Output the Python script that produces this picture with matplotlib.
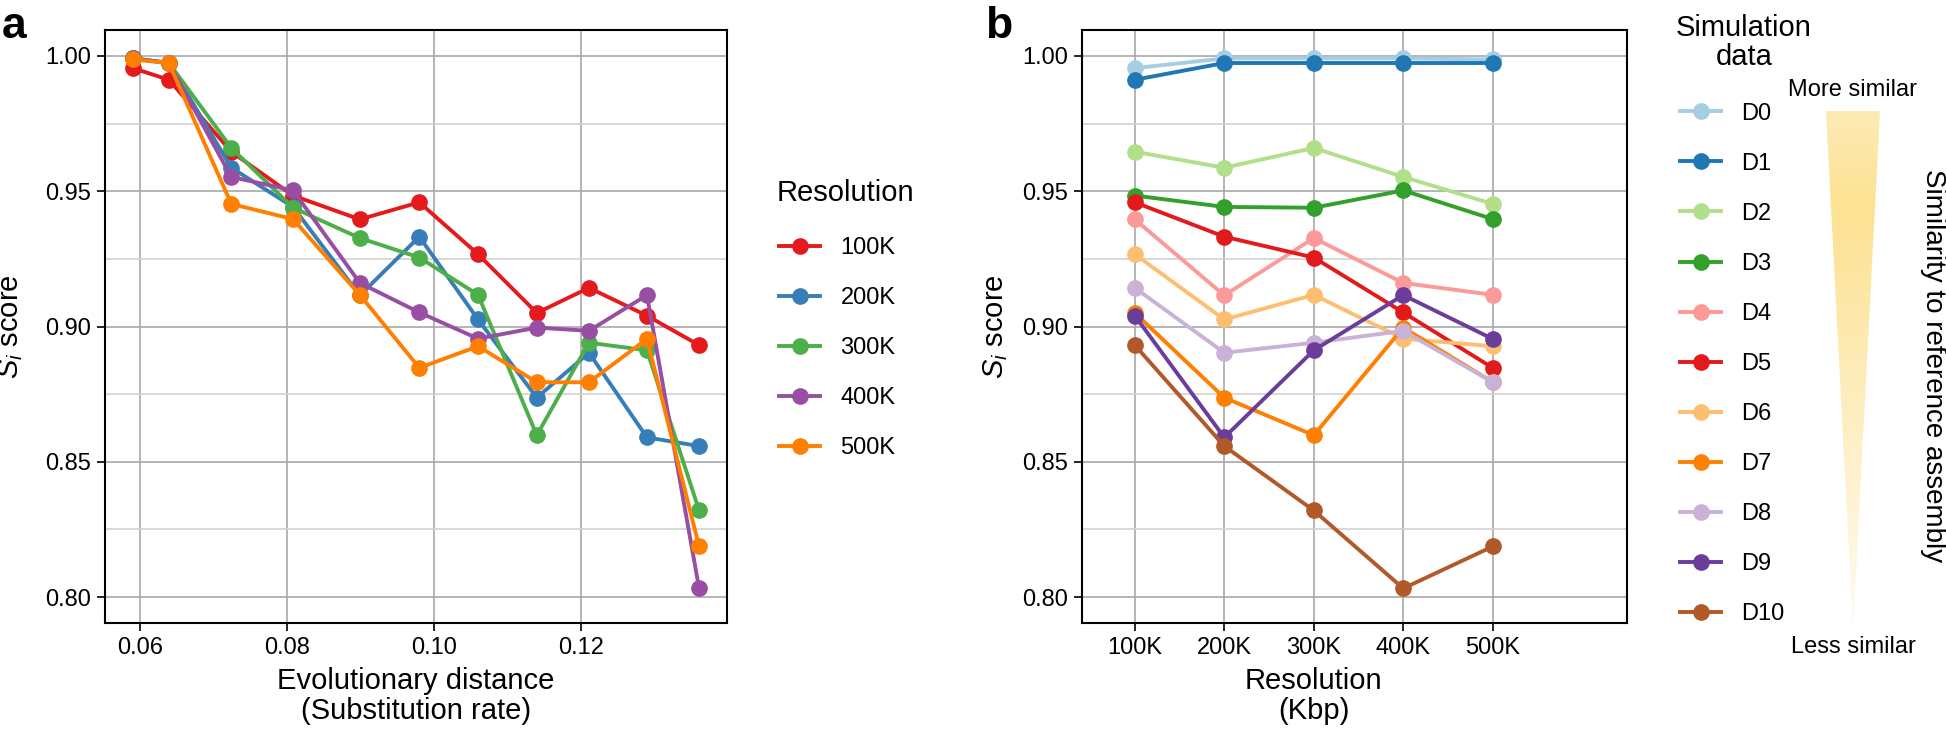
import numpy as np
import matplotlib
matplotlib.use('Agg')
import matplotlib.pyplot as plt
from matplotlib.colors import LinearSegmentedColormap
from matplotlib.patches import Polygon

plt.rcParams['font.family'] = ['Liberation Sans', 'DejaVu Sans']
plt.rcParams['mathtext.fontset'] = 'custom'
plt.rcParams['mathtext.rm'] = 'Liberation Sans'
plt.rcParams['mathtext.it'] = 'Liberation Sans:italic'

# evolutionary distance of simulated data D0..D10
distance = [0.0590, 0.0639, 0.0724, 0.0808, 0.0899, 0.0980, 0.1060, 0.1140, 0.1211, 0.1290, 0.1361]
datasets = ['D0', 'D1', 'D2', 'D3', 'D4', 'D5', 'D6', 'D7', 'D8', 'D9', 'D10']
resolutions = ['100K', '200K', '300K', '400K', '500K']

# S_i score per resolution, one value per dataset
score_100k = [0.9955, 0.9912, 0.9646, 0.9484, 0.9396, 0.9459, 0.9267, 0.9050, 0.9143, 0.9040, 0.8931]
score_200k = [0.9991, 0.9974, 0.9587, 0.9442, 0.9115, 0.9332, 0.9026, 0.8737, 0.8903, 0.8590, 0.8558]
score_300k = [0.9991, 0.9974, 0.9660, 0.9439, 0.9327, 0.9255, 0.9117, 0.8598, 0.8940, 0.8912, 0.8320]
score_400k = [0.9991, 0.9974, 0.9553, 0.9503, 0.9161, 0.9052, 0.8955, 0.8996, 0.8984, 0.9116, 0.8032]
score_500k = [0.9987, 0.9974, 0.9453, 0.9397, 0.9117, 0.8847, 0.8927, 0.8794, 0.8794, 0.8954, 0.8187]
scores = [score_100k, score_200k, score_300k, score_400k, score_500k]

res_colors = ['#E41A1C', '#377EB8', '#4DAF4A', '#984EA3', '#FF7F00']
data_colors = ['#A6CEE3', '#1F78B4', '#B2DF8A', '#33A02C', '#FB9A99', '#E31A1C',
               '#FDBF6F', '#FF7F00', '#CAB2D6', '#6A3D9A', '#B15928']

W, H = 1946, 732
fig = plt.figure(figsize=(W / 100, H / 100), dpi=100)

def px_axes(l, t, r, b):
    return fig.add_axes([l / W, 1 - b / H, (r - l) / W, (b - t) / H])

def style(ax):
    ax.set_ylim(0.7904, 1.0096)
    ax.set_yticks([0.80, 0.85, 0.90, 0.95, 1.00])
    ax.set_yticks([0.825, 0.875, 0.925, 0.975], minor=True)
    ax.yaxis.set_major_formatter(matplotlib.ticker.FormatStrFormatter('%.2f'))
    ax.grid(True, which='major', color='#a8a8a8', lw=1.2)
    ax.grid(True, which='minor', axis='y', color='#d2d2d2', lw=1.2)
    ax.set_axisbelow(True)
    ax.tick_params(which='major', length=6, width=1.2, labelsize=17, pad=4)
    ax.tick_params(which='minor', length=0)
    for s in ax.spines.values():
        s.set_linewidth(1.5)
        s.set_color('black')
    ax.set_ylabel(r'$S_i$ score', fontsize=21)

lw, ms = 2.8, 11
leg_kw = dict(frameon=False, fontsize=17, handlelength=1.75, handletextpad=0.85,
              labelspacing=1.19, borderpad=0, borderaxespad=0, loc='center left')

# panel a
ax1 = px_axes(105, 30, 727, 623)
for lab, vals, c in zip(resolutions, scores, res_colors):
    ax1.plot(distance, vals, '-o', color=c, lw=lw, ms=ms, label=lab)
ax1.set_xlim(0.0552, 0.1399)
ax1.set_xticks([0.06, 0.08, 0.10, 0.12])
ax1.xaxis.set_major_formatter(matplotlib.ticker.FormatStrFormatter('%.2f'))
style(ax1)
ax1.set_xlabel('Evolutionary distance\n(Substitution rate)', fontsize=21, linespacing=1.05)
ax1.xaxis.set_label_coords(0.5, -0.075)
ax1.yaxis.set_label_coords(-80 / 622, 0.5)
fig.legend(*ax1.get_legend_handles_labels(), bbox_to_anchor=(779 / W, 1 - 348 / H), **leg_kw)
fig.text(777 / W, 1 - 193 / H, 'Resolution', fontsize=21, ha='left', va='center')

# panel b
ax2 = px_axes(1082, 30, 1627, 623)
xpos = np.arange(len(resolutions))
for i, (lab, c) in enumerate(zip(datasets, data_colors)):
    ax2.plot(xpos, [s[i] for s in scores], '-o', color=c, lw=lw, ms=ms, label=lab)
ax2.set_xlim(-0.59, 5.5)
ax2.set_xticks(xpos)
ax2.set_xticklabels(resolutions)
style(ax2)
ax2.set_xlabel('Resolution\n(Kbp)', fontsize=21, linespacing=1.05)
ax2.xaxis.set_label_coords((2 + 0.59) / 6.09, -0.075)
ax2.yaxis.set_label_coords(-72 / 545, 0.5)
fig.legend(*ax2.get_legend_handles_labels(), bbox_to_anchor=(1680 / W, 1 - 364 / H), **leg_kw)
fig.text(1744 / W, 1 - 42.5 / H, 'Simulation\ndata', fontsize=21, ha='center', va='center',
         linespacing=1.05)

# similarity wedge
axt = px_axes(1826, 111, 1880, 630)
cmap = LinearSegmentedColormap.from_list('sim', [(0, '#fffbf2'), (0.35, '#fef0c8'),
                                                 (0.82, '#fde293'), (1, '#feeab4')])
grad = np.linspace(0, 1, 256).reshape(-1, 1)
im = axt.imshow(grad, cmap=cmap, origin='lower', extent=[0, 1, 0, 1], aspect='auto')
tri = Polygon([(0, 1), (1, 1), (0.5, 0)], transform=axt.transData)
im.set_clip_path(tri)
axt.set_xlim(0, 1)
axt.set_ylim(0, 1)
axt.axis('off')
fig.text(1853 / W, 1 - 90 / H, 'More similar', ha='center', va='center', fontsize=17)
fig.text(1853 / W, 1 - 647 / H, 'Less similar', ha='center', va='center', fontsize=17)
fig.text(1933 / W, 1 - 366 / H, 'Similarity to reference assembly', ha='center', va='center',
         rotation=270, fontsize=20)

fig.text(2 / W, 1 - 38 / H, 'a', fontsize=32, fontweight='bold', ha='left', va='baseline')
fig.text(985 / W, 1 - 38 / H, 'b', fontsize=32, fontweight='bold', ha='left', va='baseline')

plt.savefig('out.png', dpi=100)
